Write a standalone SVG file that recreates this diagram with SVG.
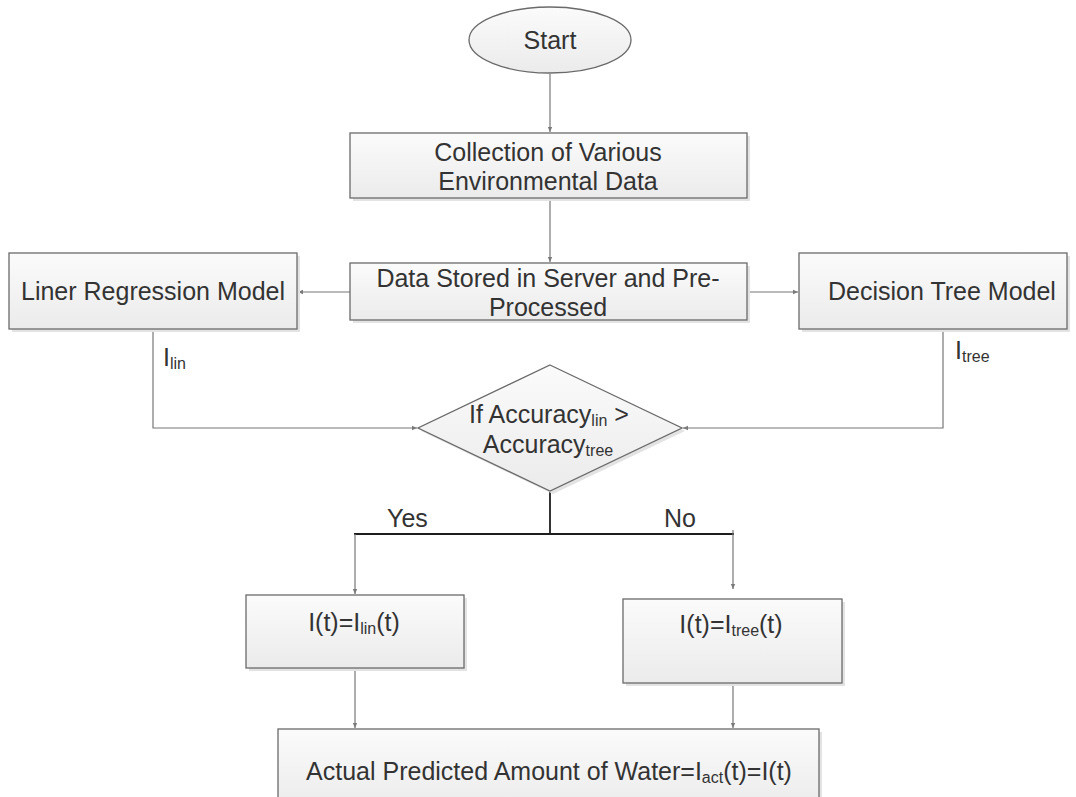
<svg xmlns="http://www.w3.org/2000/svg" width="1076" height="797" viewBox="0 0 1076 797">
  <defs>
    <linearGradient id="boxFill" x1="0" y1="0" x2="0" y2="1">
      <stop offset="0" stop-color="#fbfbfb"/>
      <stop offset="1" stop-color="#ebebeb"/>
    </linearGradient>
    <marker id="arrow" markerWidth="6" markerHeight="6" refX="5" refY="3" orient="auto" markerUnits="userSpaceOnUse">
      <path d="M0,0.8 L5,3 L0,5.2 z" fill="#7a7a7a"/>
    </marker>
    <style>
      .shadow { fill: #e3e3e3; }
      .box { fill: url(#boxFill); stroke: #6a6a6a; stroke-width: 1.3; }
      .t { font-family: "Liberation Sans", Arial, sans-serif; font-size: 25px; fill: #333333; }
      .sub { font-size: 16px; }
      .conn { fill: none; stroke: #777777; stroke-width: 1.2; }
      .conn-dark { fill: none; stroke: #1e1e1e; stroke-width: 1.8; }
    </style>
  </defs>
  <rect width="1076" height="797" fill="#ffffff"/>

  <!-- connectors -->
  <g id="connectors">
    <path class="conn" d="M550,74 L550,132" marker-end="url(#arrow)"/>
    <path class="conn" d="M550,198 L550,262" marker-end="url(#arrow)"/>
    <path class="conn" d="M350,292 L298,292" marker-end="url(#arrow)"/>
    <path class="conn" d="M747,292 L798,292" marker-end="url(#arrow)"/>
    <path class="conn" d="M153,329 L153,428 L417,428" marker-end="url(#arrow)"/>
    <path class="conn" d="M943,329 L943,428 L683,428" marker-end="url(#arrow)"/>
    <path class="conn-dark" d="M550,491 L550,534"/>
    <path class="conn-dark" d="M354,534 L734,534"/>
    <path class="conn" d="M355,534 L355,594" marker-end="url(#arrow)"/>
    <path class="conn" d="M733,530 L733,589" marker-end="url(#arrow)"/>
    <path class="conn" d="M355,668 L355,728" marker-end="url(#arrow)"/>
    <path class="conn" d="M733,683 L733,728" marker-end="url(#arrow)"/>
    <text class="t" x="163" y="366">I<tspan class="sub" dy="3">lin</tspan></text>
    <text class="t" x="955" y="359">I<tspan class="sub" dy="3">tree</tspan></text>
    <text class="t" x="387" y="527">Yes</text>
    <text class="t" x="664" y="527">No</text>
  </g>

  <!-- Start terminator -->
  <g id="start">
    <ellipse class="box" cx="550" cy="40" rx="81" ry="33"/>
    <text class="t" x="550" y="49" text-anchor="middle">Start</text>
  </g>

  <!-- Data collection -->
  <g id="collection">
    <rect class="shadow" x="353" y="136" width="397" height="65"/>
    <rect class="box" x="350" y="133" width="397" height="65"/>
    <text class="t" x="548" y="161" text-anchor="middle">Collection of Various</text>
    <text class="t" x="548" y="190" text-anchor="middle">Environmental Data</text>
  </g>

  <!-- Storage and pre-processing -->
  <g id="storage">
    <rect class="shadow" x="353" y="266" width="397" height="57"/>
    <rect class="box" x="350" y="263" width="397" height="57"/>
    <text class="t" x="548" y="287" text-anchor="middle">Data Stored in Server and Pre-</text>
    <text class="t" x="548" y="316" text-anchor="middle">Processed</text>
  </g>

  <!-- Linear regression model -->
  <g id="linear-model">
    <rect class="shadow" x="12" y="256" width="288" height="76"/>
    <rect class="box" x="9" y="253" width="288" height="76"/>
    <text class="t" x="153" y="300" text-anchor="middle">Liner Regression Model</text>
  </g>

  <!-- Decision tree model -->
  <g id="tree-model">
    <rect class="shadow" x="802" y="256" width="268" height="76"/>
    <rect class="box" x="799" y="253" width="268" height="76"/>
    <text class="t" x="942" y="300" text-anchor="middle">Decision Tree Model</text>
  </g>

  <!-- Accuracy comparison -->
  <g id="decision">
    <polygon class="shadow" points="553,368 685,431 553,494 421,431"/>
    <polygon class="box" points="550,365 682,428 550,491 418,428"/>
    <text class="t" x="549" y="423" text-anchor="middle">If Accuracy<tspan class="sub" dy="3">lin</tspan><tspan dy="-3"> &gt;</tspan></text>
    <text class="t" x="548" y="453" text-anchor="middle">Accuracy<tspan class="sub" dy="3">tree</tspan></text>
  </g>

  <!-- Linear result -->
  <g id="result-lin">
    <rect class="shadow" x="249" y="598" width="218" height="73"/>
    <rect class="box" x="246" y="595" width="218" height="73"/>
    <text class="t" x="354" y="631" text-anchor="middle">I(t)=I<tspan class="sub" dy="3">lin</tspan><tspan dy="-3">(t)</tspan></text>
  </g>

  <!-- Tree result -->
  <g id="result-tree">
    <rect class="shadow" x="626" y="602" width="219" height="84"/>
    <rect class="box" x="623" y="599" width="219" height="84"/>
    <text class="t" x="731" y="633" text-anchor="middle">I(t)=I<tspan class="sub" dy="3">tree</tspan><tspan dy="-3">(t)</tspan></text>
  </g>

  <!-- Final output -->
  <g id="output">
    <rect class="shadow" x="281" y="732" width="541" height="80"/>
    <rect class="box" x="278" y="729" width="541" height="80"/>
    <text class="t" x="549" y="780" text-anchor="middle">Actual Predicted Amount of Water=I<tspan class="sub" dy="3">act</tspan><tspan dy="-3">(t)=I(t)</tspan></text>
  </g>
</svg>
